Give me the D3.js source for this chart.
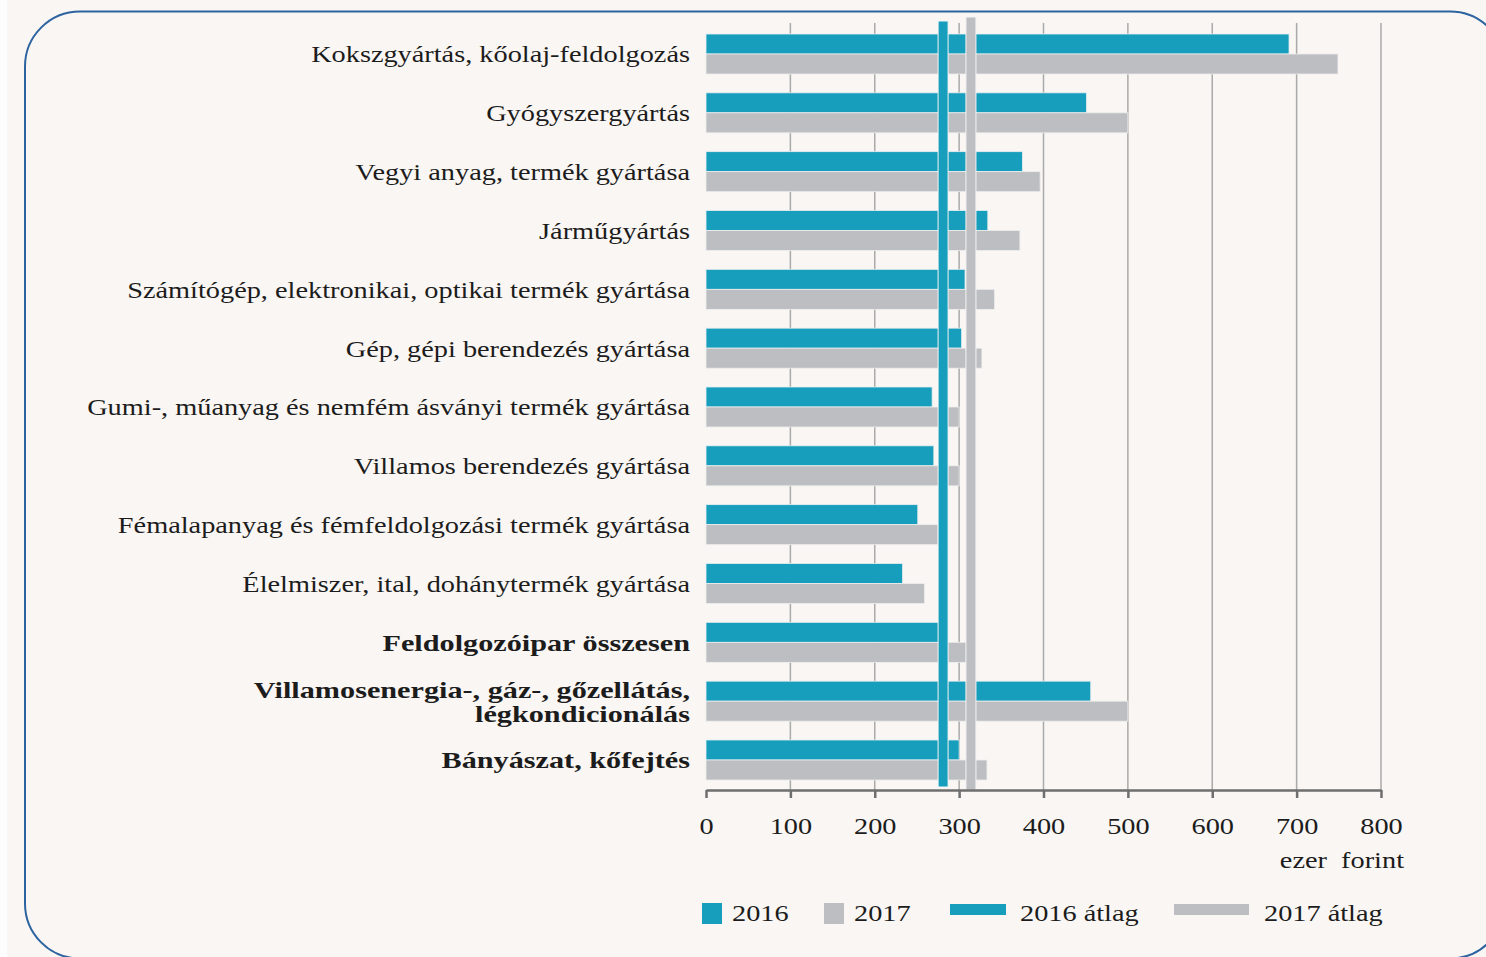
<!DOCTYPE html>
<html>
<head>
<meta charset="utf-8">
<script src="https://cdn.jsdelivr.net/npm/d3@7"></script>
<style>
  body { margin: 0; background: #fdfdfd; }
  svg text { font-family: "Liberation Serif", serif; fill: #1c1c1c; }
</style>
</head>
<body>
<svg id="chart" width="1486" height="957"></svg>
<script>
var categories = [
    "Kokszgyártás, kőolaj-feldolgozás",
    "Gyógyszergyártás",
    "Vegyi anyag, termék gyártása",
    "Járműgyártás",
    "Számítógép, elektronikai, optikai termék gyártása",
    "Gép, gépi berendezés gyártása",
    "Gumi-, műanyag és nemfém ásványi termék gyártása",
    "Villamos berendezés gyártása",
    "Fémalapanyag és fémfeldolgozási termék gyártása",
    "Élelmiszer, ital, dohánytermék gyártása",
    "Feldolgozóipar összesen",
    "Villamosenergia-, gáz-, gőzellátás,|légkondicionálás",
    "Bányászat, kőfejtés"
];
var boldCategories = [
    "Feldolgozóipar összesen",
    "Villamosenergia-, gáz-, gőzellátás,|légkondicionálás",
    "Bányászat, kőfejtés"
];
var values2016 = [691, 451, 375, 334, 307, 303, 268, 270, 251, 233, 281, 456, 300];
var values2017 = [749, 500, 396, 372, 342, 327, 300, 300, 275, 259, 319, 500, 333];
var avg2016 = 281;
var avg2017 = 314;
var xTicks = [0, 100, 200, 300, 400, 500, 600, 700, 800];
var series = ["2016", "2017"];
var legendItems = ["2016", "2017", "2016 átlag", "2017 átlag"];

var teal = "#179ebc",
    grey = "#bdbec1";
var stretch = 1.18; // the original type is set wider than Liberation Serif

var svg = d3.select("#chart");

function widen(sel, ax, s) {
    s = s || stretch;
    sel.attr("transform", "translate(" + ax + ",0) scale(" + s + ",1) translate(" + (-ax) + ",0)");
}

// background panel with rounded border
svg.append("rect")
    .attr("x", 7).attr("y", 0)
    .attr("width", 1479).attr("height", 957)
    .attr("fill", "#f9f6f3");
svg.append("rect")
    .attr("x", 25).attr("y", 11.5)
    .attr("width", 1480).attr("height", 947)
    .attr("rx", 55).attr("ry", 55)
    .attr("fill", "none")
    .attr("stroke", "#2d64a0")
    .attr("stroke-width", 2);

var x = d3.scaleLinear().domain([0, 800]).range([706, 1381]);
var y = d3.scaleBand().domain(categories).range([24, 790])
    .paddingInner(0.32).paddingOuter(0.17);
var ySub = d3.scaleBand().domain(series).range([0, y.bandwidth()]);

// gridlines
svg.append("g").selectAll("line")
    .data(xTicks.slice(1))
    .join("line")
    .attr("x1", function (d) { return x(d); })
    .attr("x2", function (d) { return x(d); })
    .attr("y1", 23).attr("y2", 790)
    .attr("stroke", "#aaaaaa")
    .attr("stroke-width", 1.5);

// bars
var groups = svg.append("g").selectAll("g")
    .data(categories)
    .join("g")
    .attr("transform", function (d) { return "translate(0," + y(d) + ")"; });

groups.append("rect")
    .attr("x", x(0))
    .attr("y", ySub("2016"))
    .attr("width", function (d, i) { return x(values2016[i]) - x(0); })
    .attr("height", ySub.bandwidth())
    .attr("fill", teal)
    .attr("stroke", "#e8eef0").attr("stroke-width", 0.8);

groups.append("rect")
    .attr("x", x(0))
    .attr("y", ySub("2017"))
    .attr("width", function (d, i) { return x(values2017[i]) - x(0); })
    .attr("height", ySub.bandwidth())
    .attr("fill", grey)
    .attr("stroke", "#eeeeee").attr("stroke-width", 0.8);

// average lines
svg.append("rect")
    .attr("x", x(avg2016) - 5).attr("y", 21)
    .attr("width", 10).attr("height", 766)
    .attr("fill", teal)
    .attr("stroke", "#f4f4f4").attr("stroke-width", 1);
svg.append("rect")
    .attr("x", x(avg2017) - 5).attr("y", 17)
    .attr("width", 10).attr("height", 773)
    .attr("fill", grey)
    .attr("stroke", "#f4f4f4").attr("stroke-width", 1);

// x axis
var xAxis = d3.axisBottom(x).tickValues(xTicks).tickSize(8).tickSizeOuter(0);
var ax = svg.append("g").attr("transform", "translate(0,790)").call(xAxis);
ax.select(".domain").attr("stroke", "#6e6e6e").attr("stroke-width", 2.5);
ax.selectAll(".tick line").attr("stroke", "#6e6e6e").attr("stroke-width", 2.5);
ax.selectAll(".tick text")
    .attr("y", 27)
    .attr("dy", "0.71em")
    .attr("transform", "scale(" + stretch + ",1)")
    .style("font-family", "'Liberation Serif', serif")
    .style("font-size", "24px")
    .attr("fill", "#1c1c1c");

svg.append("text")
    .attr("x", 1404).attr("y", 868)
    .attr("text-anchor", "end")
    .style("font-size", "24px")
    .style("word-spacing", "6px")
    .text("ezer forint")
    .call(widen, 1404);

// category labels
groups.each(function (d) {
    var lines = d.split("|");
    var bold = boldCategories.indexOf(d) >= 0;
    var t = d3.select(this).append("text")
        .attr("x", 690)
        .attr("text-anchor", "end")
        .style("font-size", "24px")
        .style("font-weight", bold ? "bold" : "normal")
        .call(widen, 690, bold ? 1.26 : stretch);
    var mid = y.bandwidth() / 2;
    lines.forEach(function (line, k) {
        t.append("tspan")
            .attr("x", 690)
            .attr("y", mid + (k - (lines.length - 1) / 2) * 24)
            .attr("dy", "0.35em")
            .text(line);
    });
});

// legend
var legend = svg.append("g");
var legendX = [702, 824, 950, 1174];
var textX = [732, 854, 1020, 1264];
legendItems.forEach(function (item, i) {
    var isLine = item.indexOf("átlag") >= 0;
    var col = item.indexOf("2016") === 0 ? teal : grey;
    legend.append("rect")
        .attr("x", legendX[i])
        .attr("y", isLine ? 904 : 903)
        .attr("width", isLine ? (i === 2 ? 56 : 75) : 20)
        .attr("height", isLine ? 11 : 21)
        .attr("fill", col);
    legend.append("text")
        .attr("x", textX[i]).attr("y", 921)
        .style("font-size", "24px")
        .text(item)
        .call(widen, textX[i]);
});
</script>
</body>
</html>
